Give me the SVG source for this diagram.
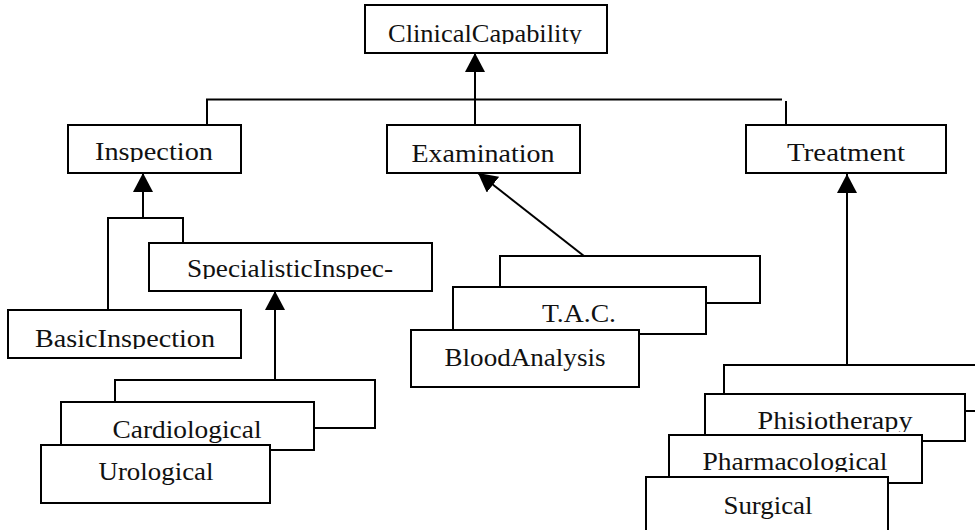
<svg xmlns="http://www.w3.org/2000/svg" width="975" height="530" viewBox="0 0 975 530">
<style>
.box{fill:#fff;stroke:#000;stroke-width:2}
.ln{fill:none;stroke:#000;stroke-width:2}
.t{font-family:"Liberation Serif","Times New Roman",serif;font-size:25px;fill:#111;text-anchor:middle}
</style>
<defs>
<marker id="arr" viewBox="0 0 19 20" refX="19" refY="10" markerUnits="userSpaceOnUse" markerWidth="19" markerHeight="20" orient="auto">
<path d="M0,0 L19,10 L0,20 z" fill="#000"/>
</marker>
<clipPath id="cRoot"><rect x="366" y="6" width="240" height="38"/></clipPath>
<clipPath id="cInsp"><rect x="69" y="126" width="171" height="36"/></clipPath>
<clipPath id="cSpec"><rect x="150" y="244" width="281" height="35"/></clipPath>
<clipPath id="cBasic"><rect x="9" y="311" width="231" height="38"/></clipPath>
<clipPath id="cPhis"><rect x="706" y="395" width="258" height="37"/></clipPath>
<clipPath id="cPharm"><rect x="670" y="436" width="251" height="36"/></clipPath>
</defs>

<g id="connectors">
<path class="ln" d="M207,125 V99.5 H782"/>
<path class="ln" d="M786,125 V101"/>
<path class="ln" d="M475,125 V53" marker-end="url(#arr)"/>
<path class="ln" d="M143,218 V173" marker-end="url(#arr)"/>
<path class="ln" d="M108,310 V218 H183 V243"/>
<path class="ln" d="M275,380 V291" marker-end="url(#arr)"/>
<path class="ln" d="M584,256 L478,173" marker-end="url(#arr)"/>
<path class="ln" d="M847,365 V174" marker-end="url(#arr)"/>
</g>

<g id="ClinicalCapability">
<rect class="box" x="365" y="5" width="242" height="48"/>
<text class="t" x="485" y="42" textLength="194" lengthAdjust="spacingAndGlyphs" clip-path="url(#cRoot)">ClinicalCapability</text>
</g>

<g id="Inspection">
<rect class="box" x="68" y="125" width="173" height="48"/>
<text class="t" x="154" y="160" textLength="118" lengthAdjust="spacingAndGlyphs" clip-path="url(#cInsp)">Inspection</text>
</g>

<g id="Examination">
<rect class="box" x="387" y="125" width="193" height="48"/>
<text class="t" x="483" y="162" textLength="143" lengthAdjust="spacingAndGlyphs">Examination</text>
</g>

<g id="Treatment">
<rect class="box" x="746" y="125" width="200" height="48"/>
<text class="t" x="846" y="161" textLength="118" lengthAdjust="spacingAndGlyphs">Treatment</text>
</g>

<g id="SpecialisticInspection">
<rect class="box" x="149" y="243" width="283" height="48"/>
<text class="t" x="290" y="277" textLength="206" lengthAdjust="spacingAndGlyphs" clip-path="url(#cSpec)">SpecialisticInspec-</text>
</g>

<g id="BasicInspection">
<rect class="box" x="8" y="310" width="233" height="48"/>
<text class="t" x="125" y="347" textLength="180" lengthAdjust="spacingAndGlyphs" clip-path="url(#cBasic)">BasicInspection</text>
</g>

<g id="SpecialisticStackBack">
<rect class="box" x="115" y="380" width="260" height="48"/>
</g>

<g id="Cardiological">
<rect class="box" x="61" y="402" width="253" height="48"/>
<text class="t" x="187" y="438" textLength="149" lengthAdjust="spacingAndGlyphs">Cardiological</text>
</g>

<g id="Urological">
<rect class="box" x="41" y="445" width="229" height="58"/>
<text class="t" x="156" y="480" textLength="115" lengthAdjust="spacingAndGlyphs">Urological</text>
</g>

<g id="ExaminationStackBack">
<rect class="box" x="500" y="256" width="260" height="47"/>
</g>

<g id="TAC">
<rect class="box" x="453" y="287" width="253" height="47"/>
<text class="t" x="579" y="322" textLength="74" lengthAdjust="spacingAndGlyphs">T.A.C.</text>
</g>

<g id="BloodAnalysis">
<rect class="box" x="411" y="330" width="228" height="57"/>
<text class="t" x="525" y="366" textLength="161" lengthAdjust="spacingAndGlyphs">BloodAnalysis</text>
</g>

<g id="TreatmentStackBack">
<rect class="box" x="724" y="365" width="270" height="46"/>
</g>

<g id="Phisiotherapy">
<rect class="box" x="705" y="394" width="260" height="47"/>
<text class="t" x="835" y="429" textLength="155" lengthAdjust="spacingAndGlyphs" clip-path="url(#cPhis)">Phisiotherapy</text>
</g>

<g id="Pharmacological">
<rect class="box" x="669" y="435" width="253" height="48"/>
<text class="t" x="795" y="470" textLength="185" lengthAdjust="spacingAndGlyphs" clip-path="url(#cPharm)">Pharmacological</text>
</g>

<g id="Surgical">
<rect class="box" x="646" y="477" width="242" height="70"/>
<text class="t" x="768" y="514" textLength="89" lengthAdjust="spacingAndGlyphs">Surgical</text>
</g>
</svg>
